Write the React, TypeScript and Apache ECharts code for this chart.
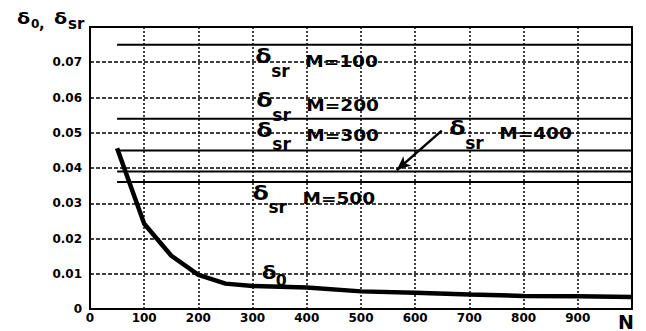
import React, { useEffect, useRef } from "react";
import * as echarts from "echarts";

// δ0 curve
const nValues = [50, 100, 150, 200, 250, 300, 400, 500, 600, 700, 800, 900, 1000];
const delta0 = [0.0456, 0.0242, 0.0151, 0.0097, 0.0072, 0.0065, 0.0061, 0.005, 0.0046, 0.0041, 0.0037, 0.0036, 0.0034];

// δsr levels for each M
const mValues = [100, 200, 300, 400, 500];
const deltaSr = [0.075, 0.054, 0.045, 0.039, 0.036];
const srStartN = 50;
const srEndN = 1000;

// annotation anchors (data coordinates of the "M=..." text, left / middle)
const annotN = [397, 399, 399, 755, 392];
const annotV = [0.0702, 0.0577, 0.0493, 0.0497, 0.0314];
// δ0 label anchor (left / middle of δ)
const delta0LabelN = 317;
const delta0LabelV = 0.0101;

// arrow for M=400
const arrowFrom = [649, 0.0506];
const arrowTo = [566, 0.0394];

const xTicks = ["0", "100", "200", "300", "400", "500", "600", "700", "800", "900", "N"];

const FONT = '"DejaVu Sans"';

function txt(text: string, x: number, y: number, size: number, scaleX: number) {
  return {
    type: "text",
    x,
    y,
    scaleX,
    z: 100,
    silent: true,
    style: {
      text,
      fill: "#000",
      font: `bold ${size}px ${FONT}`,
      textAlign: "left",
      textVerticalAlign: "middle",
      verticalAlign: "middle",
    },
  };
}

export default function App() {
  const ref = useRef<HTMLDivElement>(null);
  useEffect(() => {
    if (!ref.current) return;
    const chart = echarts.init(ref.current, null, { renderer: "svg" });
    chart.setOption({
      animation: false,
      backgroundColor: "#fff",
      grid: { left: 90, right: 14, top: 27, bottom: 17, show: true, borderColor: "#000", borderWidth: 2, backgroundColor: "transparent" },
      xAxis: {
        type: "value",
        min: 0,
        max: 1000,
        interval: 100,
        axisLine: { show: false },
        axisTick: { show: false },
        splitLine: { show: true, lineStyle: { color: "#000", type: [2, 2], width: 1.5 } },
        axisLabel: {
          margin: 3,
          fontFamily: "DejaVu Sans",
          fontWeight: "bold",
          fontSize: 12,
          color: "#000",
          formatter: (v: number) => {
            const t = xTicks[Math.round(v / 100)];
            return t === "N" ? "{n|N}" : t;
          },
          rich: { n: { fontFamily: "DejaVu Sans", fontWeight: "bold", fontSize: 19, color: "#000", padding: [0, 12, 0, 0] } },
        },
      },
      yAxis: {
        type: "value",
        min: 0,
        max: 0.08,
        interval: 0.01,
        axisLine: { show: false },
        axisTick: { show: false },
        splitLine: { show: true, lineStyle: { color: "#000", type: [4, 2], width: 1.5 } },
        axisLabel: {
          margin: 8,
          fontFamily: "DejaVu Sans",
          fontWeight: "bold",
          fontSize: 12,
          color: "#000",
          formatter: (v: number) => (v === 0 ? "0" : v > 0.0795 ? "" : v.toFixed(2)),
        },
      },
      series: [
        {
          type: "line",
          name: "δ0",
          data: nValues.map((n, i) => [n, delta0[i]]),
          symbol: "none",
          lineStyle: { color: "#000", width: 4.5 },
          z: 5,
        },
        ...mValues.map((m, i) => ({
          type: "line",
          name: `M=${m}`,
          data: [
            [srStartN, deltaSr[i]],
            [srEndN, deltaSr[i]],
          ],
          symbol: "none",
          lineStyle: { color: "#000", width: 2 },
          z: 4,
          markLine:
            m === 400
              ? {
                  silent: true,
                  symbol: ["none", "arrow"],
                  symbolSize: [9, 14],
                  lineStyle: { color: "#000", width: 2.5, type: "solid" },
                  label: { show: false },
                  data: [[{ coord: arrowFrom }, { coord: arrowTo }]],
                }
              : undefined,
        })),
      ],
    });

    const graphics: any[] = [];
    // axis title top-left
    graphics.push(txt("δ", 17, 19, 16, 1.2));
    graphics.push(txt("0", 31, 24, 12, 1.0));
    graphics.push(txt(",", 39, 24, 15, 1.0));
    graphics.push(txt("δ", 54, 19, 16, 1.2));
    graphics.push(txt("sr", 68, 24, 15, 1.0));

    mValues.forEach((m, i) => {
      const p = chart.convertToPixel({ gridIndex: 0 }, [annotN[i], annotV[i]]) as number[];
      graphics.push(txt("δ", p[0] - 50, p[1] - 5, 19, 1.25));
      graphics.push(txt("sr", p[0] - 34, p[1] + 9, 17, 1.0));
      graphics.push(txt(`M=${m}`, p[0], p[1], 16, 1.16));
    });
    const q = chart.convertToPixel({ gridIndex: 0 }, [delta0LabelN, delta0LabelV]) as number[];
    graphics.push(txt("δ", q[0], q[1], 18, 1.2));
    graphics.push(txt("0", q[0] + 14, q[1] + 8, 15, 1.05));

    chart.setOption({ graphic: graphics });
    return () => chart.dispose();
  }, []);
  return <div ref={ref} style={{ width: 646, height: 331, position: "absolute", left: 0, top: 0 }} />;
}
